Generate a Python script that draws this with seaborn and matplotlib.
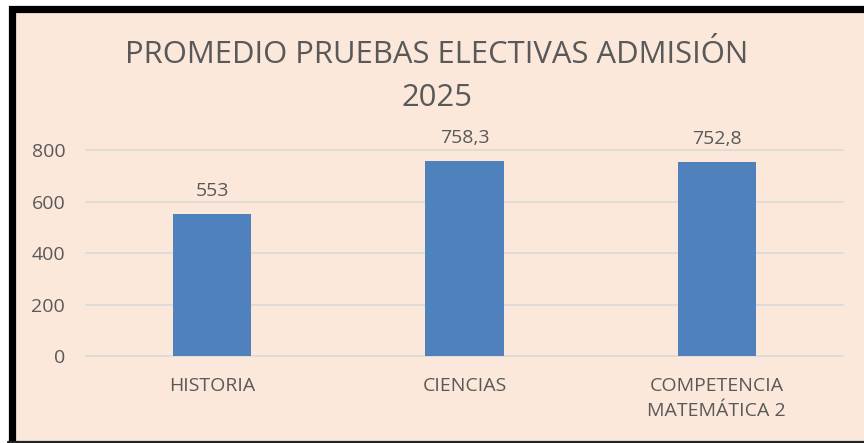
import matplotlib
matplotlib.use("Agg")
import matplotlib.pyplot as plt
from matplotlib.patches import Rectangle
from matplotlib.lines import Line2D
import seaborn as sns
import pandas as pd

# Chart data
CATEGORIES = ["HISTORIA", "CIENCIAS", "COMPETENCIA\nMATEMÁTICA 2"]
PROMEDIOS = [553, 758.3, 752.8]
ETIQUETAS = ["553", "758,3", "752,8"]
Y_TICKS = [0, 200, 400, 600, 800]

TITLE = "PROMEDIO PRUEBAS ELECTIVAS ADMISIÓN\n2025"
BG = "#FCE8DA"
BAR = "#4F81BD"
TEXT = "#595959"
GRID = "#D9D9D9"

sns.set_theme(style="white")
plt.rcParams['font.family'] = ['Open Sans', 'DejaVu Sans']

df = pd.DataFrame({"prueba": CATEGORIES, "promedio": PROMEDIOS})

fig = plt.figure(figsize=(8.64, 4.43), dpi=100, facecolor="white")

# peach panel with the thick black frame (cropped on the right)
W, H = 864, 443
panel = Rectangle((11.5 / W, -6 / H), 1.0, 1 - 9 / H + 6 / H,
                  transform=fig.transFigure, facecolor=BG, edgecolor="black",
                  linewidth=5.2, zorder=-5)
fig.patches.append(panel)
# thin bottom edge of the frame
fig.add_artist(Line2D([8 / W, 1], [1.2 / H, 1.2 / H], transform=fig.transFigure,
                      color="#222222", lw=1.6, zorder=-4))

ax = fig.add_axes([86 / W, 1 - 356 / H, (843 - 86) / W, (356 - 150) / H])
ax.set_facecolor("none")
ax.set_zorder(2)

sns.barplot(data=df, x="prueba", y="promedio", color=BAR, saturation=1,
            width=0.31, linewidth=0, ax=ax, zorder=3)

ax.set_ylim(0, 800)
ax.set_yticks(Y_TICKS)
ax.set_yticklabels([str(t) for t in Y_TICKS])
for t in Y_TICKS:
    ax.axhline(t, color=GRID, lw=1.2, zorder=1, clip_on=False)

for spine in ax.spines.values():
    spine.set_visible(False)

ax.tick_params(axis="y", length=0, pad=15, labelsize=14, labelcolor=TEXT)
ax.tick_params(axis="x", length=0, pad=15, labelsize=14, labelcolor=TEXT)
for lab in ax.get_xticklabels():
    lab.set_linespacing(1.5)
ax.set_xlabel("")
ax.set_ylabel("")

for i, (v, lab) in enumerate(zip(PROMEDIOS, ETIQUETAS)):
    ax.annotate(lab, (i, v), xytext=(0, 10), textcoords="offset points",
                ha="center", va="bottom", fontsize=14, color=TEXT,
                annotation_clip=False)

fig.text(437 / W, 1 - 40 / H, TITLE, ha="center", va="top", fontsize=22.3,
         color=TEXT, linespacing=1.55, zorder=3)

fig.savefig("out.png", dpi=100, facecolor=fig.get_facecolor())
